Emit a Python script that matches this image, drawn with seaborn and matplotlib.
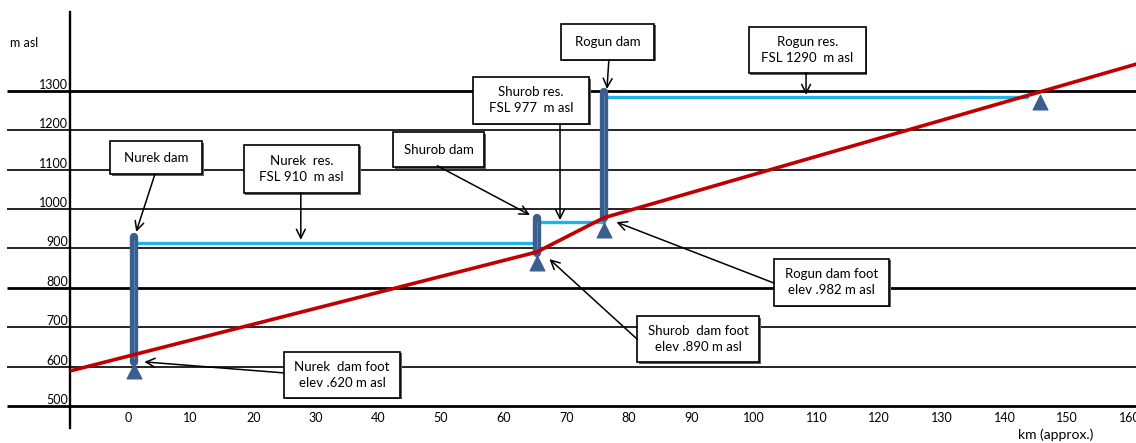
import pandas as pd
import matplotlib.pyplot as plt
from matplotlib.patches import Rectangle
import seaborn as sns

# river bed profile (km, m asl)
terrain_km = [-9, 65.3, 76, 161]
terrain_m = [590, 891, 978, 1368]

# dams
dam_names = ['Nurek', 'Shurob', 'Rogun']
dam_km = [1, 65.3, 76]
dam_top = [929, 977, 1298]
dam_foot = [612, 889, 977]
foot_mark = [588, 863, 948]

# reservoirs
res_start = [1, 65.3, 76]
res_end = [65.3, 76, 143.6]
res_level = [914, 967, 1284]

# end of Rogun reservoir
tail_km = [145.7]
tail_m = [1271]

y_ticks = [500, 600, 700, 800, 900, 1000, 1100, 1200, 1300]
x_ticks = list(range(0, 161, 10))

# callout boxes: text, centre, size, arrow start, arrow tip
box_text = ['Nurek dam', 'Nurek  res.\nFSL 910  m asl', 'Shurob dam', 'Shurob res.\nFSL 977  m asl',
            'Rogun dam', 'Rogun res.\nFSL 1290  m asl', 'Rogun dam foot\nelev .982 m asl',
            'Shurob  dam foot\nelev .890 m asl', 'Nurek  dam foot\nelev .620 m asl']
box_x = [4.5, 27.7, 49.6, 64.4, 76.6, 108.5, 112.4, 91.1, 34.2]
box_y = [1131, 1102, 1151, 1276, 1425, 1404, 814, 670, 579]
box_w = [14.7, 18.4, 14.5, 18.5, 14.9, 18.7, 18.4, 19.5, 18.5]
box_h = [84, 122, 89, 119, 91, 117, 119, 117, 117]
arr_x0 = [4.3, 27.6, 49.4, 69.0, 76.8, 108.3, 103.2, 81.3, 24.9]
arr_y0 = [1089, 1041, 1110, 1216, 1379, 1346, 812, 670, 584]
arr_x1 = [1.3, 27.6, 64.2, 69.0, 76.5, 108.3, 78.0, 67.3, 2.6]
arr_y1 = [942, 922, 985, 972, 1305, 1290, 967, 873, 612]

sns.set_theme(style='white')
plt.rcParams['font.family'] = ['Lato', 'DejaVu Sans']
plt.rcParams['text.color'] = 'black'
plt.rcParams['xtick.color'] = 'black'
plt.rcParams['ytick.color'] = 'black'

fig = plt.figure(figsize=(11.36, 4.43), dpi=100)
ax = fig.add_axes([0, 0, 1, 1])
ax.set_xlim(-20.45, 161.0)
ax.set_ylim(406, 1531)

# horizontal grid lines, reaching left past the axis
lw = [2.0 if v in (500, 800, 1300) else 1.2 for v in y_ticks]
ax.hlines(y_ticks, -19.3, 161.0, colors='black', linewidths=lw, zorder=1)

# reservoirs
for s, e, lv in zip(res_start, res_end, res_level):
    sns.lineplot(x=[s, e], y=[lv, lv], color='#1EB4EA', linewidth=2.4, ax=ax, zorder=2)

# dams
bars = ax.vlines(dam_km, dam_foot, dam_top, colors='#3A5E8E', linewidths=6.0, zorder=3)
bars.set_capstyle('round')
ax.vlines(dam_km, [f + 8 for f in dam_foot], [t - 8 for t in dam_top], colors='#5C80AE',
          linewidths=0.7, zorder=3)

# river bed
sns.lineplot(x=terrain_km, y=terrain_m, color='#C00000', linewidth=2.6, ax=ax, zorder=4, sort=False)

# foot markers
marks = pd.DataFrame({'km': dam_km + tail_km, 'm': foot_mark + tail_m})
sns.scatterplot(data=marks, x='km', y='m', marker='^', s=115, color='#3A5E8E',
                edgecolor='#3A5E8E', linewidth=0.8, ax=ax, zorder=5)

# axes
for s in ['top', 'right', 'bottom']:
    ax.spines[s].set_visible(False)
ax.spines['left'].set_position(('data', -9.27))
ax.spines['left'].set_bounds(444, 1500)
ax.spines['left'].set_linewidth(1.7)
ax.spines['left'].set_color('black')
ax.spines['bottom'].set_position(('data', 500))
ax.set_xlabel('')
ax.set_ylabel('')

ax.set_xticks(x_ticks)
ax.set_xticklabels([str(v) for v in x_ticks], fontsize=9)
ax.set_yticks(y_ticks)
ax.set_yticklabels([str(v) for v in y_ticks], fontsize=9)
ax.tick_params(axis='x', length=0, pad=4)
ax.tick_params(axis='y', length=0, pad=1.5)
for t in ax.get_yticklabels():
    t.set_verticalalignment('bottom')

ax.text(-18.9, 1422, 'm asl', fontsize=9, ha='left', va='center')
ax.text(148.1, 426, 'km (approx.)', fontsize=10, ha='center', va='center')

# callouts
for i in range(len(box_text)):
    x0 = box_x[i] - box_w[i] / 2
    y0 = box_y[i] - box_h[i] / 2
    ax.add_patch(Rectangle((x0 + 0.25, y0 - 4), box_w[i], box_h[i], facecolor='#606060',
                           edgecolor='none', zorder=6))
    ax.add_patch(Rectangle((x0, y0), box_w[i], box_h[i], facecolor='white',
                           edgecolor='black', linewidth=1.2, zorder=6))
    ax.text(box_x[i], box_y[i], box_text[i], ha='center', va='center', fontsize=9.5,
            linespacing=1.4, zorder=7)
    ax.annotate('', xy=(arr_x1[i], arr_y1[i]), xytext=(arr_x0[i], arr_y0[i]),
                arrowprops=dict(arrowstyle='->', color='black', lw=1.1,
                                shrinkA=0, shrinkB=0, mutation_scale=16), zorder=8)

fig.savefig('out.png', dpi=100)
